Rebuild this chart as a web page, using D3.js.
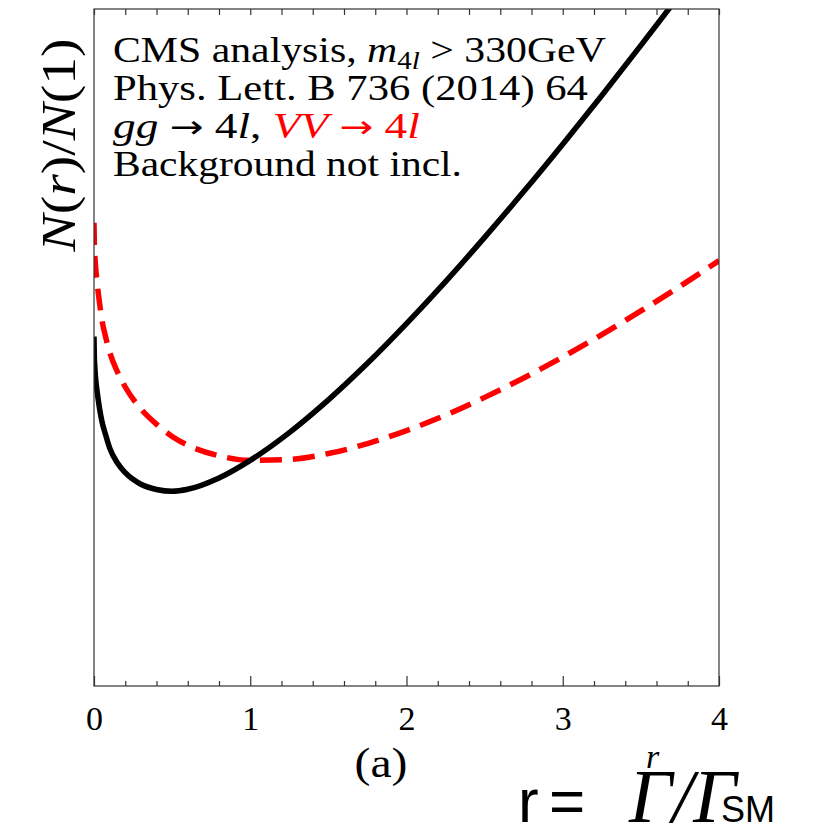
<!DOCTYPE html>
<html>
<head>
<meta charset="utf-8">
<script src="https://cdn.jsdelivr.net/npm/d3@7"></script>
<style>
  html, body { margin: 0; padding: 0; background: #fff; }
  svg { display: block; }
  .serif { font-family: "Liberation Serif", "DejaVu Serif", serif; }
  .sans { font-family: "Liberation Sans", Arial, sans-serif; }
  .arrow { font-family: "DejaVu Sans", sans-serif; }
</style>
</head>
<body>
<svg id="chart" width="822" height="834"></svg>
<script>
// r = Γ/Γ_SM sample points
const rValues = [0, 0.002, 0.005, 0.01, 0.02, 0.035, 0.05, 0.075, 0.1, 0.15, 0.2, 0.3, 0.4, 0.5, 0.6, 0.8,
                 1.0, 1.25, 1.5, 1.75, 2.0, 2.25, 2.5, 2.75, 3.0, 3.25, 3.5, 3.75, 4.0];
// N(r)/N(1) for gg → 4l (solid black)
const ggValues = [1.549, 1.464, 1.417, 1.366, 1.305, 1.232, 1.175, 1.112, 1.055, 0.988, 0.945, 0.894, 0.871, 0.863, 0.872, 0.922,
                  1.000, 1.123, 1.268, 1.430, 1.606, 1.792, 1.988, 2.191, 2.401, 2.617, 2.839, 3.065, 3.30];
// N(r)/N(1) for VV → 4l (dashed red)
const vvValues = [2.053, 1.965, 1.915, 1.860, 1.787, 1.700, 1.625, 1.545, 1.480, 1.392, 1.325, 1.228, 1.160, 1.106, 1.067, 1.020,
                  1.000, 1.004, 1.030, 1.074, 1.132, 1.200, 1.279, 1.365, 1.458, 1.557, 1.662, 1.771, 1.885];

const xMajorTicks = [0, 1, 2, 3, 4];
const xMinorTicks = d3.range(1, 20).map(i => i * 0.2).filter(v => Math.abs(v - Math.round(v)) > 1e-6);
const textLines = ["CMS analysis, m4l > 330GeV", "Phys. Lett. B 736 (2014) 64", "gg → 4l, VV → 4l", "Background not incl."];

const svg = d3.select("#chart");
const plot = { left: 94, right: 719, top: 9, bottom: 686 };

const x = d3.scaleLinear().domain([0, 4]).range([plot.left, plot.right]);
const y = d3.scaleLinear().domain([0, 3]).range([plot.bottom, plot.top]);

// clip region for the curves
svg.append("defs").append("clipPath").attr("id", "plotClip")
  .append("rect")
  .attr("x", plot.left).attr("y", plot.top)
  .attr("width", plot.right - plot.left).attr("height", plot.bottom - plot.top);

const ggData = rValues.map((r, i) => [r, ggValues[i]]);
const vvData = rValues.map((r, i) => [r, vvValues[i]]);

const line = d3.line()
  .x(d => x(d[0]))
  .y(d => y(d[1]))
  .curve(d3.curveMonotoneX);

const curves = svg.append("g").attr("clip-path", "url(#plotClip)");

curves.append("path")
  .datum(vvData)
  .attr("d", line)
  .attr("fill", "none")
  .attr("stroke", "#ff0000")
  .attr("stroke-width", 5.5)
  .attr("stroke-dasharray", "22,11");

curves.append("path")
  .datum(ggData)
  .attr("d", line)
  .attr("fill", "none")
  .attr("stroke", "#000")
  .attr("stroke-width", 5.5);

// frame
svg.append("rect")
  .attr("x", plot.left).attr("y", plot.top)
  .attr("width", plot.right - plot.left).attr("height", plot.bottom - plot.top)
  .attr("fill", "none")
  .attr("stroke", "#333")
  .attr("stroke-width", 1.2);

// bottom axis: inward ticks
const bottomMinor = svg.append("g").attr("transform", `translate(0,${plot.bottom})`)
  .call(d3.axisBottom(x).tickValues(xMinorTicks).tickSizeInner(-5).tickSizeOuter(0).tickFormat(""));
const bottomMajor = svg.append("g").attr("transform", `translate(0,${plot.bottom})`)
  .call(d3.axisBottom(x).tickValues(xMajorTicks).tickSizeInner(-10).tickSizeOuter(0).tickPadding(20).tickFormat(d3.format("d")));
// top axis: inward ticks, no labels
const topAxis = svg.append("g").attr("transform", `translate(0,${plot.top})`)
  .call(d3.axisTop(x).tickValues(xMinorTicks.concat(xMajorTicks)).tickSizeInner(-6).tickSizeOuter(0).tickFormat(""));

[bottomMinor, bottomMajor, topAxis].forEach(g => {
  g.select(".domain").remove();
  g.selectAll(".tick line").attr("stroke", "#333").attr("stroke-width", 1.2);
});
bottomMajor.selectAll(".tick text")
  .attr("class", "serif")
  .attr("font-size", 34)
  .attr("fill", "#000");

// fit a text element to a given width by horizontal scaling
function fitWidth(sel, targetW, tx, ty, rotate) {
  const w = sel.node().getBBox().width;
  const s = targetW / w;
  sel.attr("transform", `translate(${tx},${ty})${rotate ? " rotate(" + rotate + ")" : ""} scale(${s},1)`);
}

// annotation block
const noteX = 113;
const l1 = svg.append("text").attr("class", "serif").attr("font-size", 36).attr("fill", "#000");
l1.append("tspan").text("CMS analysis, ");
l1.append("tspan").attr("font-style", "italic").text("m");
l1.append("tspan").attr("font-size", 25).attr("dy", 7).text("4");
l1.append("tspan").attr("font-size", 25).attr("font-style", "italic").text("l");
l1.append("tspan").attr("dy", -7).text(" > 330GeV");
fitWidth(l1, 493, noteX, 62);

const l2 = svg.append("text").attr("class", "serif").attr("font-size", 36).attr("fill", "#000")
  .text(textLines[1]);
fitWidth(l2, 475, noteX, 100);

const l3 = svg.append("text").attr("class", "serif").attr("font-size", 36).attr("fill", "#000");
l3.append("tspan").attr("font-style", "italic").text("gg");
l3.append("tspan").text(" ");
l3.append("tspan").attr("class", "arrow").attr("font-size", 32).text("→");
l3.append("tspan").text(" 4");
l3.append("tspan").attr("font-style", "italic").text("l");
l3.append("tspan").text(", ");
l3.append("tspan").attr("fill", "#ff0000").attr("font-style", "italic").text("VV");
l3.append("tspan").attr("fill", "#ff0000").text(" ");
l3.append("tspan").attr("fill", "#ff0000").attr("class", "arrow").attr("font-size", 32).text("→");
l3.append("tspan").attr("fill", "#ff0000").text(" 4");
l3.append("tspan").attr("fill", "#ff0000").attr("font-style", "italic").text("l");
fitWidth(l3, 307, noteX, 138);

const l4 = svg.append("text").attr("class", "serif").attr("font-size", 36).attr("fill", "#000")
  .text(textLines[3]);
fitWidth(l4, 349, noteX, 176);

// y-axis label
const yl = svg.append("text").attr("class", "serif").attr("font-size", 48).attr("fill", "#000")
  .attr("text-anchor", "middle");
yl.append("tspan").attr("font-style", "italic").text("N");
yl.append("tspan").text("(");
yl.append("tspan").attr("font-style", "italic").text("r");
yl.append("tspan").text(")/");
yl.append("tspan").attr("font-style", "italic").text("N");
yl.append("tspan").text("(1)");
fitWidth(yl, 214, 75, 145, -90);

// panel label
const pa = svg.append("text").attr("class", "serif").attr("font-size", 42).attr("fill", "#000")
  .attr("text-anchor", "middle").text("(a)");
fitWidth(pa, 53, 381, 777);

// x-axis title
svg.append("text").attr("class", "serif").attr("font-size", 34).attr("font-style", "italic")
  .attr("x", 646).attr("y", 768).text("r");
svg.append("text").attr("class", "sans").attr("font-size", 62).attr("x", 518).attr("y", 822).text("r");
svg.append("text").attr("class", "sans").attr("font-size", 62).attr("x", 549).attr("y", 822).text("=");
svg.append("text").attr("class", "serif").attr("font-size", 76).attr("font-style", "italic")
  .attr("x", 629).attr("y", 822).text("Γ/Γ");
svg.append("text").attr("class", "sans").attr("font-size", 36).attr("x", 721).attr("y", 822).text("SM");
</script>
</body>
</html>
